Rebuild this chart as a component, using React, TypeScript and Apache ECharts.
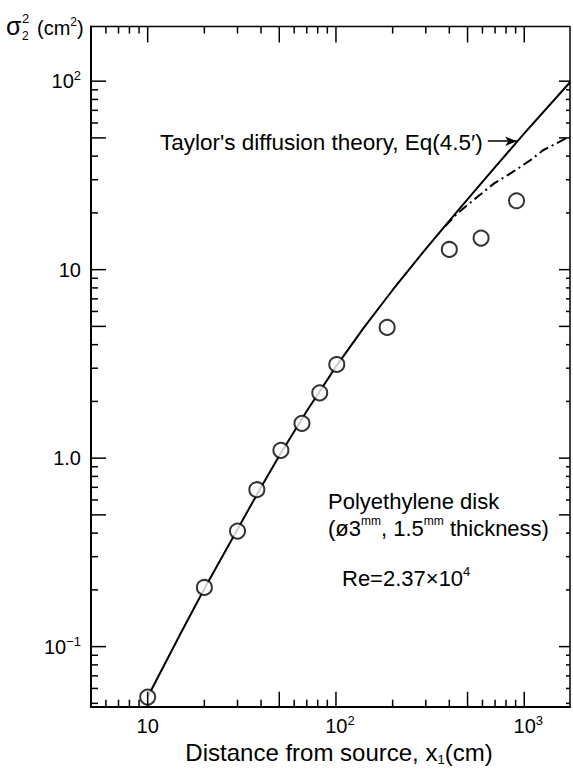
import React, { useEffect, useRef } from "react";
import * as echarts from "echarts";

// ---- data ----
const measuredX = [10, 20, 30, 38, 51, 66, 82, 101, 187, 400, 590, 910];
const measuredY = [0.054, 0.206, 0.41, 0.68, 1.1, 1.53, 2.22, 3.14, 4.94, 12.8, 14.7, 23.2];

const theoryX = [10, 15, 20, 30, 40, 50, 70, 100, 140, 200, 300, 450, 700, 1000, 1750];
const theoryY = [0.054, 0.118, 0.203, 0.42, 0.7, 1.03, 1.78, 3.06, 4.9, 7.8, 12.9, 20.9, 35.0, 52.8, 98.7];

const dashX = [380, 442, 563, 692, 845, 1079, 1259, 1750];
const dashY = [17.0, 19.9, 24.3, 28.7, 32.4, 38.1, 43, 51];

const xTicksMajor = [10, 50, 100, 500, 1000];
const xTicksMinor = [6, 7, 8, 9, 20, 30, 40, 60, 70, 80, 90, 200, 300, 400, 600, 700, 800, 900];
const yTicksMajor = [0.1, 0.5, 1, 5, 10, 50, 100];
const yTicksMinor = [0.05, 0.06, 0.07, 0.08, 0.09, 0.2, 0.3, 0.4, 0.6, 0.7, 0.8, 0.9, 2, 3, 4, 6, 7, 8, 9, 20, 30, 40, 60, 70, 80, 90];

const X_MIN = 5;
const X_MAX = 1750;
const Y_MIN = 0.048;
const Y_MAX = 195;

const arrowFrom = [640, 48];
const arrowTo = [918, 48];

const FONT = "'Liberation Sans', Arial, sans-serif";

export default function App() {
  const ref = useRef<HTMLDivElement>(null);
  useEffect(() => {
    const chart = echarts.init(ref.current!, null, { renderer: "svg" });
    const powOf = (v: number): number | null => {
      const l = Math.log10(v);
      const r = Math.round(l);
      return Math.abs(l - r) < 1e-6 ? r : null;
    };
    const supStyle = { fontSize: 13, fontFamily: FONT, color: "#000", verticalAlign: "top", lineHeight: 14 };

    const tickData: number[][] = [
      ...xTicksMajor.map((v) => [v, 1, 0, 1]),
      ...xTicksMinor.map((v) => [v, 1, 0, 0]),
      ...yTicksMajor.map((v) => [10, v, 1, 1]),
      ...yTicksMinor.map((v) => [10, v, 1, 0]),
    ];

    const option: any = {
      animation: false,
      backgroundColor: "#fff",
      grid: {
        left: 91,
        top: 26.5,
        right: 1,
        bottom: 67.3,
        show: true,
        borderColor: "#000",
        borderWidth: 1.5,
        containLabel: false,
      },
      xAxis: {
        type: "log",
        logBase: 10,
        min: X_MIN,
        max: X_MAX,
        axisLine: { show: true, onZero: false, lineStyle: { color: "#000", width: 2 } },
        axisTick: { show: false },
        splitLine: { show: false },
        axisLabel: {
          margin: 7,
          color: "#000",
          fontSize: 20,
          fontFamily: FONT,
          lineHeight: 24,
          hideOverlap: false,
          formatter: (v: number) => {
            const p = powOf(v);
            if (p === null) return "";
            if (p === 1) return "10";
            return `{pad|}10{sup|${p}}`;
          },
          rich: { pad: { width: 8 }, sup: supStyle },
        },
      },
      yAxis: {
        type: "log",
        logBase: 10,
        min: Y_MIN,
        max: Y_MAX,
        axisLine: { show: true, onZero: false, lineStyle: { color: "#000", width: 2 } },
        axisTick: { show: false },
        splitLine: { show: false },
        axisLabel: {
          margin: 10,
          color: "#000",
          fontSize: 20,
          fontFamily: FONT,
          lineHeight: 24,
          hideOverlap: false,
          formatter: (v: number) => {
            const p = powOf(v);
            if (p === null) return "";
            if (p === 0) return "1.0";
            if (p === 1) return "10";
            return `10{sup|${p < 0 ? "−" + -p : p}}`;
          },
          rich: { sup: supStyle },
        },
      },
      series: [
        {
          name: "theory",
          type: "line",
          data: theoryX.map((x, i) => [x, theoryY[i]]),
          showSymbol: false,
          smooth: false,
          lineStyle: { color: "#000", width: 2 },
          z: 2,
          markLine: {
            silent: true,
            symbol: ["none", "arrow"],
            symbolSize: [7, 12],
            lineStyle: { color: "#000", width: 1.5, type: "solid" },
            label: { show: false },
            data: [[{ coord: arrowFrom }, { coord: arrowTo }]],
          },
        },
        {
          name: "dashdot",
          type: "line",
          data: dashX.map((x, i) => [x, dashY[i]]),
          showSymbol: false,
          smooth: false,
          lineStyle: { color: "#000", width: 2, type: [10, 4, 2, 4] },
          z: 2,
        },
        {
          name: "measured",
          type: "scatter",
          data: measuredX.map((x, i) => [x, measuredY[i]]),
          symbol: "circle",
          symbolSize: 15,
          itemStyle: { color: "#fff", borderColor: "#000", borderWidth: 2 },
          z: 4,
        },
        {
          name: "ticks",
          type: "custom",
          coordinateSystem: "cartesian2d",
          silent: true,
          z: 5,
          data: tickData,
          renderItem: (params: any, api: any) => {
            const cs = params.coordSys;
            const isY = api.value(2) === 1;
            const major = api.value(3) === 1;
            const style = { stroke: "#000", lineWidth: 1.5 };
            if (!isY) {
              const x = api.coord([api.value(0), 1])[0];
              const b = cs.y + cs.height;
              const bl = major ? 15 : 7;
              const tl = major ? 16 : 7;
              return {
                type: "group",
                children: [
                  { type: "line", shape: { x1: x, y1: b, x2: x, y2: b - bl }, style },
                  { type: "line", shape: { x1: x, y1: cs.y, x2: x, y2: cs.y + tl }, style },
                ],
              };
            }
            const y = api.coord([10, api.value(1)])[1];
            const r = cs.x + cs.width;
            const ll = major ? 15 : 7;
            const rl = major ? 11 : 4;
            return {
              type: "group",
              children: [
                { type: "line", shape: { x1: cs.x, y1: y, x2: cs.x + ll, y2: y }, style },
                { type: "line", shape: { x1: r, y1: y, x2: r - rl, y2: y }, style },
              ],
            };
          },
        },
      ],
      graphic: [
        {
          type: "text",
          x: 160,
          y: 142,
          z: 10,
          style: { text: "Taylor's diffusion theory, Eq(4.5′)", fontSize: 22.5, fontFamily: FONT, fill: "#000", verticalAlign: "middle" },
        },
        {
          type: "text",
          x: 328,
          y: 501,
          z: 10,
          style: { text: "Polyethylene disk", fontSize: 22, fontFamily: FONT, fill: "#000", verticalAlign: "middle" },
        },
        {
          type: "text",
          x: 328,
          y: 528,
          z: 10,
          style: {
            text: "(ø3{sup|mm}, 1.5{sup|mm} thickness)",
            fontSize: 22,
            fontFamily: FONT,
            fill: "#000",
            lineHeight: 26,
            verticalAlign: "middle",
            rich: { sup: { fontSize: 12, fontFamily: FONT, fill: "#000", verticalAlign: "top", lineHeight: 13 } },
          },
        },
        {
          type: "text",
          x: 342,
          y: 578,
          z: 10,
          style: {
            text: "Re=2.37×10{sup|4}",
            fontSize: 22,
            fontFamily: FONT,
            fill: "#000",
            lineHeight: 26,
            verticalAlign: "middle",
            rich: { sup: { fontSize: 13, fontFamily: FONT, fill: "#000", verticalAlign: "top", lineHeight: 14 } },
          },
        },
        {
          type: "text",
          x: 339,
          y: 752,
          z: 10,
          style: {
            text: "Distance from source, x{sub|1}(cm)",
            fontSize: 24,
            fontFamily: FONT,
            fill: "#000",
            lineHeight: 28,
            align: "center",
            verticalAlign: "middle",
            rich: { sub: { fontSize: 13, fontFamily: FONT, fill: "#000", verticalAlign: "bottom", lineHeight: 14 } },
          },
        },
        {
          type: "group",
          z: 10,
          children: [
            { type: "text", x: 6, y: 26, style: { text: "σ", fontSize: 25, fontFamily: FONT, fill: "#000", verticalAlign: "middle" } },
            { type: "text", x: 22, y: 18, style: { text: "2", fontSize: 13, fontFamily: FONT, fill: "#000", verticalAlign: "middle" } },
            { type: "text", x: 22, y: 36, style: { text: "2", fontSize: 12, fontFamily: FONT, fill: "#000", verticalAlign: "middle" } },
            {
              type: "text",
              x: 37,
              y: 28,
              style: {
                text: "(cm{sup|2})",
                fontSize: 20,
                fontFamily: FONT,
                fill: "#000",
                lineHeight: 24,
                verticalAlign: "middle",
                rich: { sup: { fontSize: 12, fontFamily: FONT, fill: "#000", verticalAlign: "top", lineHeight: 12 } },
              },
            },
          ],
        },
      ],
    };
    chart.setOption(option);
    return () => chart.dispose();
  }, []);
  return (
    <div
      ref={ref}
      style={{ position: "absolute", left: 0, top: 0, width: 573, height: 774, background: "#fff" }}
    />
  );
}
